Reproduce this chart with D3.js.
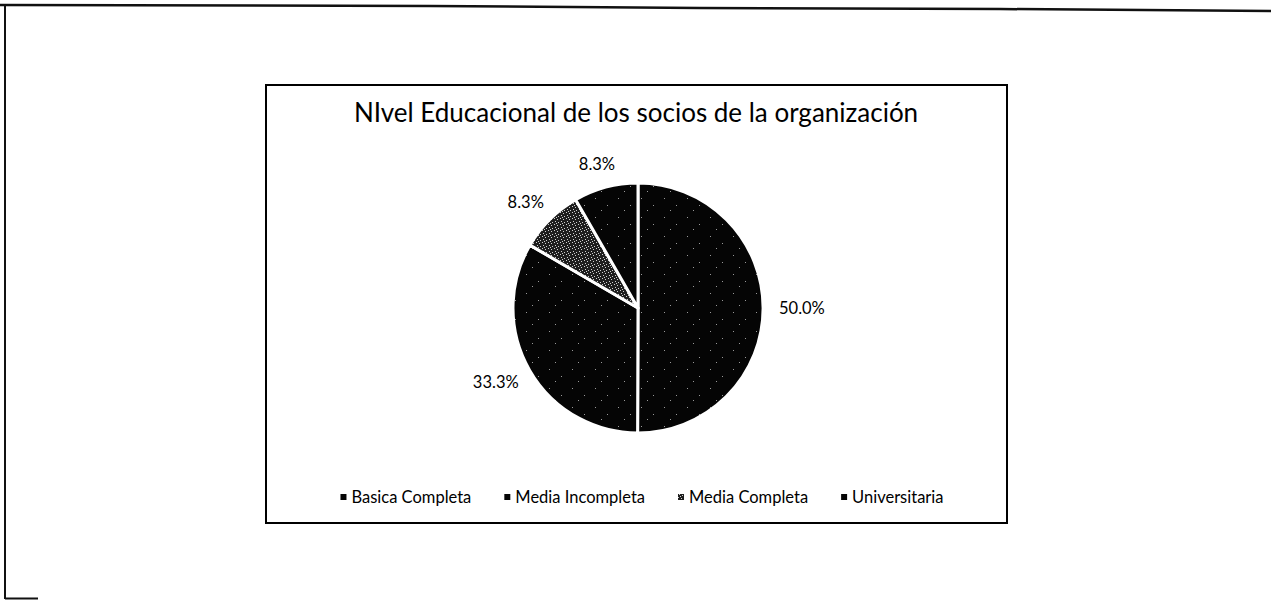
<!DOCTYPE html>
<html>
<head>
<meta charset="utf-8">
<script src="https://cdn.jsdelivr.net/npm/d3@7"></script>
<style>
  body { margin: 0; background: #fff; }
  svg { display: block; }
  text { font-family: Lato, "Open Sans", sans-serif; fill: #000; }
</style>
</head>
<body>
<svg width="1271" height="600"></svg>
<script>
// **** data ****
var categories = ["Basica Completa", "Media Incompleta", "Media Completa", "Universitaria"];
var percents = [50.0, 33.3, 8.3, 8.3];
var title = "NIvel Educacional de los socios de la organización";

var fills = ["url(#speck)", "url(#speck)", "url(#grain)", "url(#speck)"];

var svg = d3.select('svg');
var defs = svg.append('defs');

// dark scanned texture
var speck = defs.append('pattern').attr('id', 'speck')
    .attr('patternUnits', 'userSpaceOnUse').attr('width', 23).attr('height', 19);
speck.append('rect').attr('width', 23).attr('height', 19).attr('fill', '#050505');
[[3, 4], [15, 11], [9, 16]].forEach(function(p){
    speck.append('rect').attr('x', p[0]).attr('y', p[1]).attr('width', 1).attr('height', 1).attr('fill', '#9a9a9a');
});

var grain = defs.append('pattern').attr('id', 'grain')
    .attr('patternUnits', 'userSpaceOnUse').attr('width', 6).attr('height', 6);
grain.append('rect').attr('width', 6).attr('height', 6).attr('fill', '#1e1e1e');
[[0, 0], [3, 1], [1, 3], [4, 4], [2, 5]].forEach(function(p){
    grain.append('rect').attr('x', p[0]).attr('y', p[1]).attr('width', 1).attr('height', 1).attr('fill', '#d0d0d0');
});

// **** page edges from the scan ****
svg.append('path').attr('d', d3.line()([[0, 5], [430, 6], [700, 8], [1000, 9], [1271, 11]]))
    .attr('stroke', '#111').attr('stroke-width', 2.5).attr('fill', 'none');
svg.append('line').attr('x1', 5).attr('x2', 5).attr('y1', 5).attr('y2', 599)
    .attr('stroke', '#111').attr('stroke-width', 2);
svg.append('line').attr('x1', 5).attr('x2', 38).attr('y1', 598.5).attr('y2', 598.5)
    .attr('stroke', '#111').attr('stroke-width', 2);

// **** chart frame ****
var box = {x: 266, y: 85, w: 741, h: 438};
svg.append('rect')
    .attr('x', box.x).attr('y', box.y).attr('width', box.w).attr('height', box.h)
    .attr('fill', '#fff').attr('stroke', '#000').attr('stroke-width', 2);

svg.append('text')
    .text(title)
    .attr('class', 'title')
    .attr('text-anchor', 'middle')
    .style('font-size', '26px')
    .attr('transform', 'translate(636,122)');

// **** pie ****
var cx = 638, cy = 308, r = 125;
var pie = d3.pie().sort(null).value(function(d){ return d; });
var arc = d3.arc().innerRadius(0).outerRadius(r);
var arcs = pie(percents);

var pieG = svg.append('g').attr('transform', 'translate(' + cx + ',' + cy + ')');

pieG.selectAll('path.slice')
    .data(arcs)
    .enter().append('path')
    .attr('class', 'slice')
    .attr('d', arc)
    .attr('fill', function(d, i){ return fills[i]; })
    .attr('stroke', '#fff')
    .attr('stroke-width', 3)
    .attr('stroke-linejoin', 'round');

// labels: outside end, box edge a fixed pad from the rim
var pad = 16;
pieG.selectAll('text.pct')
    .data(arcs)
    .enter().append('text')
    .attr('class', 'pct')
    .style('font-size', '16.5px')
    .attr('text-anchor', 'middle')
    .attr('dy', '0.35em')
    .text(function(d){ return d.data.toFixed(1) + '%'; })
    .attr('transform', function(d){
        var a = (d.startAngle + d.endAngle) / 2;
        var dx = Math.sin(a), dy = -Math.cos(a);
        var hw = this.getComputedTextLength() / 2, hh = 8;
        var x = dx * (r + pad) + dx * hw;
        var y = dy * (r + pad) + dy * hh;
        return 'translate(' + x + ',' + y + ')';
    });

// **** legend ****
var legend = svg.append('g').attr('class', 'legend').attr('transform', 'translate(0,497)');
var lx = 0;
var items = legend.selectAll('g.item')
    .data(categories)
    .enter().append('g')
    .attr('class', 'item');

items.append('rect')
    .attr('x', 0).attr('y', -3).attr('width', 6).attr('height', 6)
    .attr('fill', function(d, i){ return fills[i]; });

items.append('text')
    .attr('x', 11)
    .attr('dy', '0.35em')
    .style('font-size', '16.5px')
    .text(function(d){ return d; });

items.each(function(){
    var w = d3.select(this).select('text').node().getComputedTextLength();
    d3.select(this).attr('transform', 'translate(' + lx + ',0)');
    lx += 11 + w + 33;
});
var legendW = lx - 33;
legend.attr('transform', 'translate(' + (642 - legendW / 2) + ',497)');
</script>
</body>
</html>
